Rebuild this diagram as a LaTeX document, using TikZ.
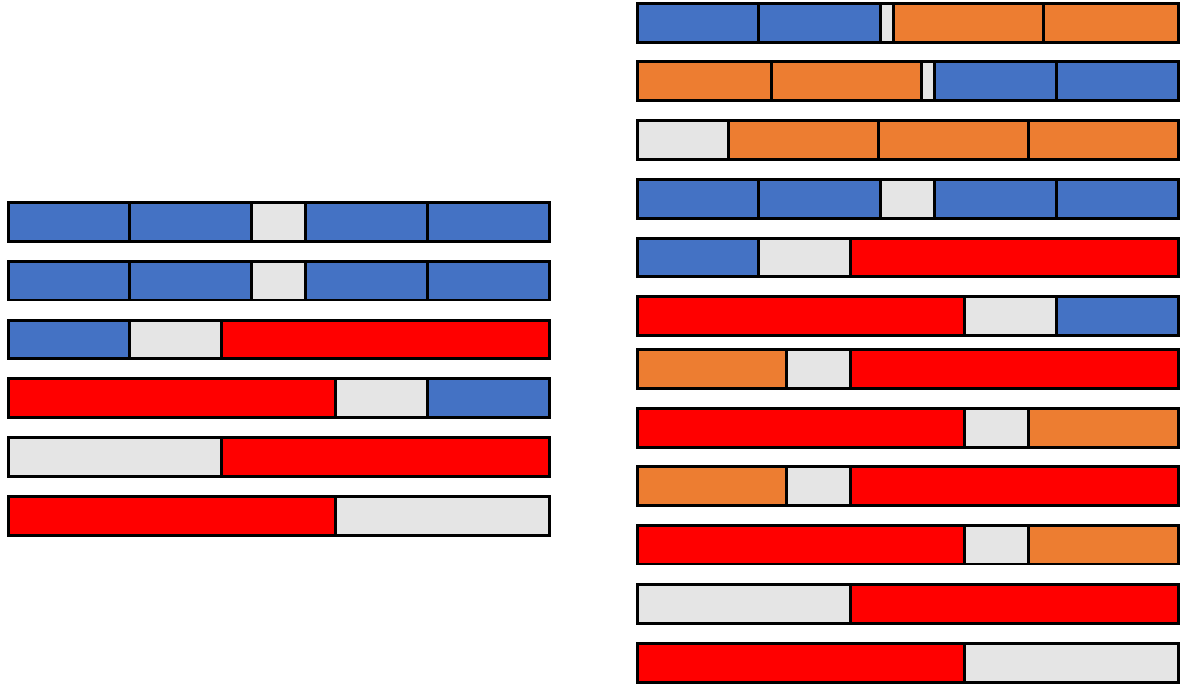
\documentclass[tikz,border=0pt]{standalone}
\definecolor{cblue}{HTML}{4472C4}
\definecolor{corange}{HTML}{ED7D31}
\definecolor{cred}{HTML}{FF0000}
\definecolor{cgray}{HTML}{E5E5E5}
\tikzset{segline/.style={draw=black,line width=2.7pt,line join=miter}}
\newcommand{\mkseg}[5]{\filldraw[segline,fill=#5] (#1,#3) rectangle (#2,#4);}
\begin{document}
\begin{tikzpicture}[x=1pt,y=-1pt]
\useasboundingbox (0,0) rectangle (1185,688);
% ---- left column
% bar 1
\mkseg{8.5}{129.7}{202.5}{241.3}{cblue}
\mkseg{129.7}{251.3}{202.5}{241.3}{cblue}
\mkseg{251.3}{305.5}{202.5}{241.3}{cgray}
\mkseg{305.5}{427.3}{202.5}{241.3}{cblue}
\mkseg{427.3}{549.5}{202.5}{241.3}{cblue}
% bar 2
\mkseg{8.5}{129.7}{261.3}{300}{cblue}
\mkseg{129.7}{251.3}{261.3}{300}{cblue}
\mkseg{251.3}{305.5}{261.3}{300}{cgray}
\mkseg{305.5}{427.3}{261.3}{300}{cblue}
\mkseg{427.3}{549.5}{261.3}{300}{cblue}
% bar 3
\mkseg{8.5}{129.7}{320.2}{358.8}{cblue}
\mkseg{129.7}{221.3}{320.2}{358.8}{cgray}
\mkseg{221.3}{549.5}{320.2}{358.8}{cred}
% bar 4
\mkseg{8.5}{335.3}{378.5}{417.3}{cred}
\mkseg{335.3}{427.3}{378.5}{417.3}{cgray}
\mkseg{427.3}{549.5}{378.5}{417.3}{cblue}
% bar 5
\mkseg{8.5}{221.3}{437.3}{476.3}{cgray}
\mkseg{221.3}{549.5}{437.3}{476.3}{cred}
% bar 6
\mkseg{8.5}{335.3}{496.3}{535.3}{cred}
\mkseg{335.3}{549.5}{496.3}{535.3}{cgray}
% ---- right column
% bar 1
\mkseg{637.5}{758.7}{3.5}{42.3}{cblue}
\mkseg{758.7}{880.7}{3.5}{42.3}{cblue}
\mkseg{880.7}{893.7}{3.5}{42.3}{cgray}
\mkseg{893.7}{1043.7}{3.5}{42.3}{corange}
\mkseg{1043.7}{1178.5}{3.5}{42.3}{corange}
% bar 2
\mkseg{637.5}{771.5}{61.7}{100.3}{corange}
\mkseg{771.5}{921.5}{61.7}{100.3}{corange}
\mkseg{921.5}{934.3}{61.7}{100.3}{cgray}
\mkseg{934.3}{1056.3}{61.7}{100.3}{cblue}
\mkseg{1056.3}{1178.5}{61.7}{100.3}{cblue}
% bar 3
\mkseg{637.5}{728.7}{120.5}{159.3}{cgray}
\mkseg{728.7}{878.7}{120.5}{159.3}{corange}
\mkseg{878.7}{1028.7}{120.5}{159.3}{corange}
\mkseg{1028.7}{1178.5}{120.5}{159.3}{corange}
% bar 4
\mkseg{637.5}{758.7}{179.5}{218.3}{cblue}
\mkseg{758.7}{880.7}{179.5}{218.3}{cblue}
\mkseg{880.7}{934.3}{179.5}{218.3}{cgray}
\mkseg{934.3}{1056.3}{179.5}{218.3}{cblue}
\mkseg{1056.3}{1178.5}{179.5}{218.3}{cblue}
% bar 5
\mkseg{637.5}{758.7}{238.5}{276.8}{cblue}
\mkseg{758.7}{850.3}{238.5}{276.8}{cgray}
\mkseg{850.3}{1178.5}{238.5}{276.8}{cred}
% bar 6
\mkseg{637.5}{964.5}{296.7}{335.3}{cred}
\mkseg{964.5}{1056.3}{296.7}{335.3}{cgray}
\mkseg{1056.3}{1178.5}{296.7}{335.3}{cblue}
% bar 7
\mkseg{637.5}{786.7}{349.7}{388.3}{corange}
\mkseg{786.7}{850.3}{349.7}{388.3}{cgray}
\mkseg{850.3}{1178.5}{349.7}{388.3}{cred}
% bar 8
\mkseg{637.5}{964.5}{408.5}{447.3}{cred}
\mkseg{964.5}{1028.5}{408.5}{447.3}{cgray}
\mkseg{1028.5}{1178.5}{408.5}{447.3}{corange}
% bar 9
\mkseg{637.5}{786.7}{466.7}{505.3}{corange}
\mkseg{786.7}{850.3}{466.7}{505.3}{cgray}
\mkseg{850.3}{1178.5}{466.7}{505.3}{cred}
% bar 10
\mkseg{637.5}{964.5}{525.5}{564}{cred}
\mkseg{964.5}{1028.5}{525.5}{564}{cgray}
\mkseg{1028.5}{1178.5}{525.5}{564}{corange}
% bar 11
\mkseg{637.5}{850.5}{584.5}{623.3}{cgray}
\mkseg{850.5}{1178.5}{584.5}{623.3}{cred}
% bar 12
\mkseg{637.5}{964.5}{643.5}{682.3}{cred}
\mkseg{964.5}{1178.5}{643.5}{682.3}{cgray}
\end{tikzpicture}
\end{document}
